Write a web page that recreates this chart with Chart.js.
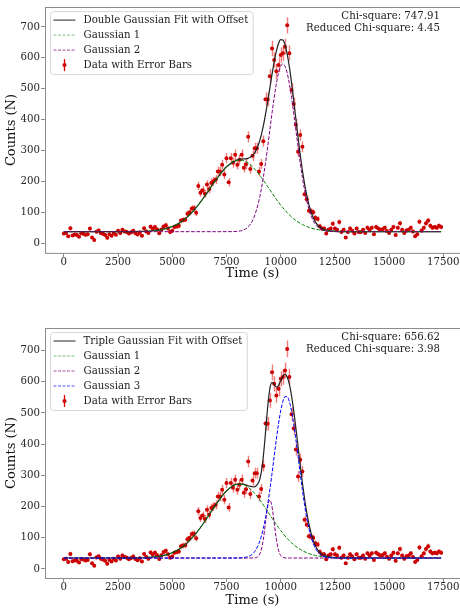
<!DOCTYPE html>
<html>
<head>
<meta charset="utf-8">
<script src="https://cdn.jsdelivr.net/npm/chart.js@4.4.1/dist/chart.umd.min.js"></script>
<style>
  html, body { margin: 0; padding: 0; background: #fff; overflow: hidden; }
  body { width: 460px; height: 612px; position: relative; }
  canvas { display: block; position: absolute; left: 0; }
  #topChart { top: 0; }
  #bottomChart { top: 300px; }
</style>
</head>
<body>
<canvas id="topChart" width="480" height="300"></canvas>
<canvas id="bottomChart" width="480" height="312"></canvas>
<script>
// measured counts, one every 100 s
const TIME = [
    0, 100, 200, 300, 400, 500, 600, 700, 800, 900,
    1000, 1100, 1200, 1300, 1400, 1500, 1600, 1700, 1800, 1900,
    2000, 2100, 2200, 2300, 2400, 2500, 2600, 2700, 2800, 2900,
    3000, 3100, 3200, 3300, 3400, 3500, 3600, 3700, 3800, 3900,
    4000, 4100, 4200, 4300, 4400, 4500, 4600, 4700, 4800, 4900,
    5000, 5100, 5200, 5300, 5400, 5500, 5600, 5700, 5800, 5900,
    6000, 6100, 6200, 6300, 6400, 6500, 6600, 6700, 6800, 6900,
    7000, 7100, 7200, 7300, 7400, 7500, 7600, 7700, 7800, 7900,
    8000, 8100, 8200, 8300, 8400, 8500, 8600, 8700, 8800, 8900,
    9000, 9100, 9200, 9300, 9400, 9500, 9600, 9700, 9800, 9900,
    10000, 10100, 10200, 10300, 10400, 10500, 10600, 10700, 10800, 10900,
    11000, 11100, 11200, 11300, 11400, 11500, 11600, 11700, 11800, 11900,
    12000, 12100, 12200, 12300, 12400, 12500, 12600, 12700, 12800, 12900,
    13000, 13100, 13200, 13300, 13400, 13500, 13600, 13700, 13800, 13900,
    14000, 14100, 14200, 14300, 14400, 14500, 14600, 14700, 14800, 14900,
    15000, 15100, 15200, 15300, 15400, 15500, 15600, 15700, 15800, 15900,
    16000, 16100, 16200, 16300, 16400, 16500, 16600, 16700, 16800, 16900,
    17000, 17100, 17200, 17300, 17400
];
const COUNTS = [
    31, 33, 22, 48, 25, 28, 26, 21, 32, 30,
    27, 29, 47, 18, 10, 37, 41, 33, 30, 26,
    17, 29, 24, 33, 27, 40, 33, 43, 38, 36,
    31, 35, 40, 32, 28, 34, 24, 48, 38, 33,
    53, 46, 52, 44, 32, 44, 54, 58, 47, 36,
    40, 52, 54, 56, 73, 75, 76, 95, 100, 112,
    113, 98, 185, 163, 171, 160, 190, 174, 195, 200,
    206, 232, 232, 254, 222, 275, 197, 275, 260, 286,
    254, 270, 286, 244, 255, 344, 240, 283, 307, 307,
    232, 256, 330, 466, 465, 540, 630, 593, 556, 577,
    609, 615, 636, 705, 615, 496, 450, 383, 296, 350,
    312, 158, 142, 105, 103, 100, 82, 78, 55, 47,
    47, 31, 43, 47, 63, 47, 43, 68, 36, 43,
    18, 36, 47, 40, 31, 47, 36, 36, 43, 33,
    50, 43, 50, 29, 52, 47, 43, 45, 50, 39,
    33, 43, 52, 26, 50, 64, 43, 33, 41, 43,
    50, 38, 22, 29, 69, 41, 50, 64, 73, 56,
    50, 52, 50, 56, 52
];

// fitted curves (offset included)
const CURVE_T = [0, 1000, 2000, 3000, 3500, 4000, 4500, 5000, 5500, 6000,
    6500, 7000, 7500, 8000, 8250, 8500, 8750, 9000, 9100, 9200,
    9300, 9400, 9500, 9600, 9700, 9800, 9900, 10000, 10100, 10200,
    10300, 10400, 10500, 10600, 10700, 10800, 10900, 11000, 11200, 11400,
    11600, 11800, 12000, 12500, 13000, 14000, 15000, 16000, 17000, 17400];

const DOUBLE_FIT = [37, 37, 37, 37.2, 37.7, 39.3, 43.6, 53.6, 73.3, 106.2,
    152.0, 203.5, 247.3, 269.6, 272.3, 274.5, 286.8, 323.9, 348.7, 379.8,
    416.5, 457.8, 501.8, 545.8, 586.8, 621.2, 646.1, 658.7, 657.4, 641.7,
    612.2, 570.6, 519.6, 462.5, 402.6, 343.3, 287.2, 236.4, 154.7, 100.6,
    68.9, 52.2, 44.2, 38.3, 37.3, 37, 37, 37, 37, 37];
const DOUBLE_G1 = [37, 37, 37, 37.2, 37.7, 39.3, 43.6, 53.6, 73.3, 106.2,
    152.0, 203.5, 247.2, 268.4, 267.6, 259.0, 243.6, 222.8, 213.3, 203.5,
    193.3, 182.9, 172.5, 162.1, 152.0, 142.0, 132.4, 123.2, 114.4, 106.2,
    98.5, 91.4, 84.8, 78.8, 73.3, 68.4, 64.0, 60.1, 53.6, 48.7,
    45.1, 42.4, 40.6, 38.1, 37.3, 37, 37, 37, 37, 37];
const DOUBLE_G2 = [37, 37, 37, 37, 37, 37, 37, 37, 37, 37,
    37, 37, 37.1, 38.2, 41.7, 52.5, 80.2, 138.1, 172.4, 213.3,
    260.2, 311.9, 366.3, 420.7, 471.8, 516.2, 550.7, 572.5, 580, 572.5,
    550.7, 516.2, 471.8, 420.7, 366.3, 311.9, 260.2, 213.3, 138.1, 88.9,
    60.8, 46.8, 40.6, 37.2, 37, 37, 37, 37, 37, 37];

const TRIPLE_FIT = [35, 35, 35, 35.2, 35.7, 37.4, 41.7, 52.0, 72.1, 105.7,
    152.5, 205.1, 249.7, 271.6, 271.7, 266.5, 262.6, 279.9, 308.1, 360.6,
    436.9, 518.9, 577.8, 597.8, 591.2, 582.8, 587.5, 602.7, 617.5, 623.1,
    614.8, 591.9, 555.2, 507.5, 452.2, 393.0, 333.5, 277.0, 181.4, 114.8,
    74.7, 53.4, 43.4, 36.3, 35.3, 35, 35, 35, 35, 35];
const TRIPLE_G1 = [35, 35, 35, 35.2, 35.7, 37.4, 41.7, 52.0, 72.1, 105.7,
    152.5, 205.1, 249.7, 271.4, 270.6, 261.8, 246.1, 224.8, 215.1, 205.1,
    194.7, 184.0, 173.4, 162.8, 152.5, 142.3, 132.5, 123.1, 114.1, 105.7,
    97.8, 90.6, 83.8, 77.7, 72.1, 67.1, 62.6, 58.6, 52.0, 47.0,
    43.3, 40.5, 38.7, 36.1, 35.3, 35, 35, 35, 35, 35];
const TRIPLE_G2 = [35, 35, 35, 35, 35, 35, 35, 35, 35, 35,
    35, 35, 35, 35, 35, 35, 35.2, 43.2, 60.2, 95.4,
    147.8, 199.1, 221, 199.1, 147.8, 95.4, 60.2, 43.2, 37.1, 35.4,
    35.1, 35, 35, 35, 35, 35, 35, 35, 35, 35,
    35, 35, 35, 35, 35, 35, 35, 35, 35, 35];
const TRIPLE_G3 = [35, 35, 35, 35, 35, 35, 35, 35, 35, 35,
    35, 35, 35, 35.2, 36.1, 39.7, 51.3, 81.9, 102.8, 130.1,
    164.4, 205.8, 253.4, 305.9, 360.9, 415.1, 464.8, 506.4, 536.3, 552.0,
    552.0, 536.3, 506.4, 464.8, 415.1, 360.9, 305.9, 253.4, 164.4, 102.8,
    66.4, 47.9, 39.7, 35.2, 35, 35, 35, 35, 35, 35];

const X_TICKS = [0, 2500, 5000, 7500, 10000, 12500, 15000, 17500];
const Y_TICKS = [0, 100, 200, 300, 400, 500, 600, 700];

const SERIF = "'DejaVu Serif', serif";
Chart.defaults.font.family = SERIF;

function pts(xs, ys) {
    return xs.map((x, i) => ({ x: x, y: ys[i] }));
}

// vertical error bars, sqrt(N) like the picture shows
const errorBars = {
    id: "errorBars",
    beforeDatasetsDraw(chart) {
        const { ctx, scales: { x, y } } = chart;
        ctx.save();
        ctx.beginPath();
        ctx.rect(chart.chartArea.left, chart.chartArea.top, chart.chartArea.width, chart.chartArea.height);
        ctx.clip();
        ctx.strokeStyle = "rgba(238, 70, 70, 0.7)";
        ctx.lineWidth = 1.4;
        ctx.beginPath();
        TIME.forEach((t, i) => {
            let e = Math.sqrt(COUNTS[i]);
            let px = Math.round(x.getPixelForValue(t)) + 0.5;
            ctx.moveTo(px, y.getPixelForValue(COUNTS[i] - e));
            ctx.lineTo(px, y.getPixelForValue(COUNTS[i] + e));
        });
        ctx.stroke();
        ctx.restore();
    }
};

// axes box, legend and chi-square text
const annot = {
    id: "annot",
    afterDraw(chart, args, opts) {
        const { ctx, chartArea: a } = chart;
        ctx.save();
        ctx.strokeStyle = "#8c8c8c";
        ctx.lineWidth = 1;
        ctx.strokeRect(Math.round(a.left) + 0.5, Math.round(a.top) + 0.5, a.width, a.height);

        ctx.font = "10.2px " + SERIF;
        let bx = a.left + 5.5, by = a.top + 4.5;
        let tw = Math.max(...opts.items.map(it => ctx.measureText(it.label).width));
        let bw = 33 + tw + 5, bh = opts.items.length * 15 + 3;
        ctx.beginPath();
        ctx.roundRect(bx, by, bw, bh, 3);
        ctx.fillStyle = "rgba(255,255,255,0.8)";
        ctx.fill();
        ctx.strokeStyle = "#d6d6d6";
        ctx.stroke();

        opts.items.forEach((it, i) => {
            let ry = by + 8.5 + i * 15;
            if (it.err) {
                ctx.strokeStyle = "#e00000";
                ctx.lineWidth = 1.3;
                ctx.setLineDash([]);
                ctx.beginPath();
                ctx.moveTo(bx + 14, ry - 6);
                ctx.lineTo(bx + 14, ry + 6);
                ctx.stroke();
                ctx.fillStyle = "#cc0000";
                ctx.beginPath();
                ctx.arc(bx + 14, ry, 2, 0, Math.PI * 2);
                ctx.fill();
            } else {
                ctx.strokeStyle = it.color;
                ctx.lineWidth = it.width;
                ctx.setLineDash(it.dash);
                ctx.beginPath();
                ctx.moveTo(bx + 3, ry);
                ctx.lineTo(bx + 25, ry);
                ctx.stroke();
                ctx.setLineDash([]);
            }
            ctx.fillStyle = "#222";
            ctx.textAlign = "left";
            ctx.textBaseline = "middle";
            ctx.fillText(it.label, bx + 33, ry);
        });

        ctx.textAlign = "right";
        ctx.textBaseline = "middle";
        ctx.fillStyle = "#222";
        opts.stats.forEach((s, i) => {
            ctx.fillText(s, a.left + 395, a.top + 9 + i * 12.5);
        });
        ctx.restore();
    }
};

function lineSet(ys, color, width, dash) {
    return {
        type: "line",
        data: pts(CURVE_T, ys),
        borderColor: color,
        borderWidth: width,
        borderDash: dash,
        pointRadius: 0,
        fill: false,
        cubicInterpolationMode: "monotone"
    };
}

function makeChart(id, padTop, axisH, titlePad, yMin, yMax, lines, items, stats) {
    let datasets = lines.slice();
    datasets.push({
        type: "scatter",
        data: pts(TIME, COUNTS),
        pointRadius: 2,
        pointBackgroundColor: "#cc0000",
        pointBorderWidth: 0
    });
    return new Chart(document.getElementById(id), {
        type: "scatter",
        data: { datasets: datasets },
        options: {
            responsive: false,
            animation: false,
            layout: { padding: { top: padTop, right: 20, left: 0, bottom: 0 } },
            plugins: {
                legend: { display: false },
                tooltip: { enabled: false },
                annot: { items: items, stats: stats }
            },
            scales: {
                x: {
                    type: "linear",
                    min: -870,
                    max: 18270,
                    afterBuildTicks: s => { s.ticks = X_TICKS.map(v => ({ value: v })); },
                    afterFit: s => { s.height = axisH; },
                    border: { display: false },
                    grid: { drawOnChartArea: false, drawTicks: true, tickLength: 4, color: "#8c8c8c" },
                    ticks: { font: { size: 10.2 }, color: "#262626", padding: -1, maxRotation: 0, autoSkip: false, callback: v => String(v) },
                    title: { display: true, text: "Time (s)", font: { size: 13 }, color: "#111", padding: { top: 0, bottom: titlePad } }
                },
                y: {
                    min: yMin,
                    max: yMax,
                    afterBuildTicks: s => { s.ticks = Y_TICKS.map(v => ({ value: v })); },
                    afterFit: s => { s.width = 45; },
                    border: { display: false },
                    grid: { drawOnChartArea: false, drawTicks: true, tickLength: 4, color: "#8c8c8c" },
                    ticks: { font: { size: 10.2 }, color: "#262626", padding: 1, autoSkip: false, callback: v => String(v) },
                    title: { display: true, text: "Counts (N)", font: { size: 13 }, color: "#111", padding: { top: 4, bottom: 0 } }
                }
            }
        },
        plugins: [errorBars, annot]
    });
}

const DASH = [3.7, 1.6];

makeChart("topChart", 3, 47, 19, -32, 764,
    [
        lineSet(DOUBLE_G2, "#800080", 1, DASH),
        lineSet(DOUBLE_G1, "#008000", 1, DASH),
        lineSet(DOUBLE_FIT, "#222222", 1.2, [])
    ],
    [
        { label: "Double Gaussian Fit with Offset", color: "#555", width: 1.3, dash: [] },
        { label: "Gaussian 1", color: "#7fbf7f", width: 1, dash: [3, 1.5] },
        { label: "Gaussian 2", color: "#a050a0", width: 1, dash: [3, 1.5] },
        { label: "Data with Error Bars", err: true }
    ],
    ["Chi-square: 747.91", "Reduced Chi-square: 4.45"]
);

makeChart("bottomChart", 28, 34, 4, -29, 772,
    [
        lineSet(TRIPLE_G3, "#0000ff", 1, DASH),
        lineSet(TRIPLE_G2, "#800080", 1, DASH),
        lineSet(TRIPLE_G1, "#008000", 1, DASH),
        lineSet(TRIPLE_FIT, "#222222", 1.2, [])
    ],
    [
        { label: "Triple Gaussian Fit with Offset", color: "#555", width: 1.3, dash: [] },
        { label: "Gaussian 1", color: "#7fbf7f", width: 1, dash: [3, 1.5] },
        { label: "Gaussian 2", color: "#a050a0", width: 1, dash: [3, 1.5] },
        { label: "Gaussian 3", color: "#5050ff", width: 1, dash: [3, 1.5] },
        { label: "Data with Error Bars", err: true }
    ],
    ["Chi-square: 656.62", "Reduced Chi-square: 3.98"]
);
</script>
</body>
</html>
